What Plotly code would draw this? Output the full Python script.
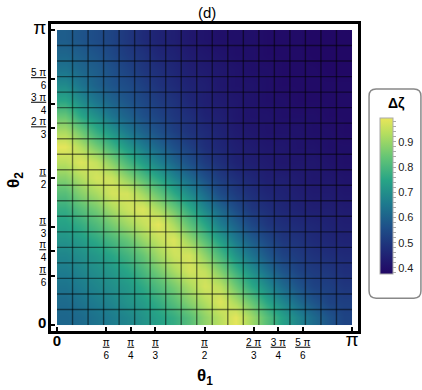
import numpy as np
import plotly.graph_objects as go

# 19 x 19 mesh cells on [0, pi] x [0, pi]
n_cells = 19
cell_edges = [k * np.pi / n_cells for k in range(n_cells + 1)]

# delta zeta at the cell centres (row = theta2 from 0 up)
dzeta = [
    [0.61, 0.62, 0.64, 0.66, 0.68, 0.71, 0.74, 0.77, 0.82, 0.89, 0.94, 0.99, 0.91, 0.82, 0.74, 0.68, 0.62, 0.57, 0.53],
    [0.62, 0.64, 0.66, 0.68, 0.71, 0.73, 0.77, 0.82, 0.88, 0.93, 0.98, 0.92, 0.84, 0.75, 0.68, 0.62, 0.57, 0.53, 0.52],
    [0.64, 0.66, 0.68, 0.70, 0.72, 0.76, 0.81, 0.86, 0.92, 0.97, 0.94, 0.85, 0.76, 0.69, 0.62, 0.57, 0.53, 0.52, 0.50],
    [0.66, 0.68, 0.70, 0.72, 0.75, 0.80, 0.86, 0.92, 0.97, 0.95, 0.87, 0.78, 0.70, 0.63, 0.57, 0.53, 0.51, 0.50, 0.48],
    [0.68, 0.70, 0.72, 0.75, 0.79, 0.84, 0.91, 0.96, 0.97, 0.89, 0.80, 0.71, 0.64, 0.58, 0.53, 0.51, 0.49, 0.48, 0.47],
    [0.71, 0.73, 0.76, 0.80, 0.84, 0.90, 0.95, 0.98, 0.90, 0.82, 0.73, 0.65, 0.59, 0.54, 0.50, 0.49, 0.47, 0.46, 0.45],
    [0.74, 0.77, 0.81, 0.86, 0.91, 0.95, 0.99, 0.92, 0.83, 0.75, 0.66, 0.60, 0.54, 0.50, 0.48, 0.47, 0.46, 0.45, 0.44],
    [0.77, 0.82, 0.86, 0.92, 0.96, 0.98, 0.92, 0.85, 0.76, 0.68, 0.61, 0.55, 0.50, 0.48, 0.46, 0.45, 0.44, 0.44, 0.43],
    [0.82, 0.88, 0.92, 0.97, 0.97, 0.91, 0.84, 0.76, 0.69, 0.62, 0.55, 0.51, 0.48, 0.46, 0.45, 0.44, 0.43, 0.43, 0.42],
    [0.88, 0.93, 0.97, 0.96, 0.89, 0.82, 0.75, 0.68, 0.62, 0.56, 0.51, 0.48, 0.46, 0.44, 0.44, 0.43, 0.42, 0.42, 0.41],
    [0.94, 0.98, 0.95, 0.88, 0.80, 0.73, 0.67, 0.61, 0.56, 0.51, 0.48, 0.45, 0.44, 0.43, 0.42, 0.42, 0.42, 0.41, 0.40],
    [0.99, 0.93, 0.86, 0.79, 0.72, 0.66, 0.61, 0.56, 0.52, 0.48, 0.46, 0.44, 0.43, 0.42, 0.42, 0.41, 0.41, 0.40, 0.40],
    [0.92, 0.85, 0.77, 0.71, 0.65, 0.60, 0.56, 0.52, 0.49, 0.47, 0.45, 0.43, 0.42, 0.41, 0.41, 0.41, 0.40, 0.40, 0.39],
    [0.84, 0.75, 0.70, 0.64, 0.60, 0.56, 0.53, 0.50, 0.48, 0.45, 0.44, 0.42, 0.41, 0.41, 0.40, 0.40, 0.40, 0.39, 0.39],
    [0.75, 0.69, 0.64, 0.60, 0.57, 0.54, 0.51, 0.49, 0.46, 0.44, 0.43, 0.42, 0.41, 0.40, 0.40, 0.39, 0.39, 0.39, 0.39],
    [0.69, 0.64, 0.60, 0.57, 0.55, 0.52, 0.49, 0.47, 0.45, 0.44, 0.42, 0.41, 0.41, 0.40, 0.39, 0.39, 0.39, 0.39, 0.39],
    [0.64, 0.61, 0.59, 0.56, 0.53, 0.50, 0.48, 0.46, 0.44, 0.43, 0.42, 0.41, 0.40, 0.40, 0.39, 0.39, 0.39, 0.38, 0.38],
    [0.61, 0.59, 0.57, 0.54, 0.51, 0.49, 0.46, 0.45, 0.43, 0.42, 0.41, 0.40, 0.40, 0.39, 0.39, 0.39, 0.38, 0.38, 0.38],
    [0.59, 0.57, 0.55, 0.53, 0.50, 0.47, 0.45, 0.44, 0.42, 0.41, 0.40, 0.40, 0.40, 0.39, 0.39, 0.39, 0.38, 0.38, 0.38],
]

# angle ticks (fractions of pi)
angle_ticks = [0, 1 / 6, 1 / 4, 1 / 3, 1 / 2, 2 / 3, 3 / 4, 5 / 6, 1]
angle_text = [
    "<span style='font-size:15px'><b>0</b></span>",
    "<u>π</u><br>6", "<u>π</u><br>4", "<u>π</u><br>3", "<u>π</u><br>2",
    "<u>2 π</u><br>3", "<u>3 π</u><br>4", "<u>5 π</u><br>6",
    "<span style='font-size:19px'>π</span>",
]

cbar_ticks = [0.38, 0.40, 0.42, 0.44, 0.46, 0.48, 0.50, 0.52, 0.54, 0.56, 0.58, 0.60, 0.62, 0.64,
              0.66, 0.68, 0.70, 0.72, 0.74, 0.76, 0.78, 0.80, 0.82, 0.84, 0.86, 0.88, 0.90, 0.92,
              0.94, 0.96, 0.98]
cbar_text = ["" if round(v * 100) % 10 else "%.1f" % v for v in cbar_ticks]

colors = [[0, "#210664"], [0.15, "#1f2a78"], [0.3, "#1e5089"], [0.45, "#1d7a8e"],
          [0.6, "#27a486"], [0.75, "#65c575"], [0.9, "#b5de5f"], [1, "#e9e65a"]]

fig = go.Figure()

fig.add_trace(go.Heatmap(
    x=cell_edges, y=cell_edges, z=dzeta, zsmooth="best",
    zmin=0.376, zmax=0.995, colorscale=colors, hoverinfo="skip",
    colorbar=dict(
        x=1.0717, xanchor="left", xpad=0, ypad=0,
        y=0.44, yanchor="middle", len=0.508, thickness=13,
        outlinewidth=1, outlinecolor="#aaa",
        tickvals=cbar_ticks, ticktext=cbar_text,
        ticks="outside", ticklen=3, tickwidth=1, tickcolor="#aaa",
        tickfont=dict(size=11, color="#222"),
    ),
))

# mesh lines over the density
mx, my = [], []
for e in cell_edges[1:-1]:
    mx += [e, e, None]
    my += [0, np.pi, None]
    mx += [0, np.pi, None]
    my += [e, e, None]
fig.add_trace(go.Scatter(x=mx, y=my, mode="lines", hoverinfo="skip", showlegend=False,
                         line=dict(color="rgba(0,0,0,0.5)", width=1.4)))

pad = 0.064
axis_style = dict(
    range=[-pad, np.pi + pad], showgrid=False, zeroline=False,
    showline=True, mirror=True, linewidth=2.5, linecolor="black",
    ticks="inside", ticklen=4, tickwidth=2, tickcolor="black",
    tickvals=[t * np.pi for t in angle_ticks], ticktext=angle_text,
    tickfont=dict(size=10, color="black"), automargin=False,
)
fig.update_xaxes(**axis_style)
fig.update_yaxes(**axis_style)

# rounded frame around the colour bar
x0, x1, y0, y1, r = 1.036, 1.205, 0.107, 0.788, 0.023
box = (f"M {x0 + r},{y0} L {x1 - r},{y0} Q {x1},{y0} {x1},{y0 + r} "
       f"L {x1},{y1 - r} Q {x1},{y1} {x1 - r},{y1} L {x0 + r},{y1} "
       f"Q {x0},{y1} {x0},{y1 - r} L {x0},{y0 + r} Q {x0},{y0} {x0 + r},{y0} Z")
fig.add_shape(type="path", path=box, xref="paper", yref="paper",
              line=dict(color="#888", width=1.5))

label = dict(xref="paper", yref="paper", showarrow=False, xanchor="center", yanchor="middle")
fig.add_annotation(text="<b>Δζ</b>", x=1.124, y=0.743, font=dict(size=14, color="black"), **label)
fig.add_annotation(text="(d)", x=0.508, y=1.039, font=dict(size=15, color="black"), **label)
fig.add_annotation(text="<b>θ<sub>1</sub></b>", x=0.5016, y=-0.15,
                   font=dict(size=17, color="black"), **label)
fig.add_annotation(text="<b>θ<sub>2</sub></b>", x=-0.117, y=0.492, textangle=-90,
                   font=dict(size=17, color="black"), **label)

fig.update_layout(
    width=422, height=390,
    margin=dict(l=51, r=64, t=24, b=59, autoexpand=False),
    paper_bgcolor="white", plot_bgcolor="white",
    font=dict(family="Liberation Sans, Arial, sans-serif", color="black"),
    showlegend=False,
)

# drop the default 8px page margin so the figure sits at the window's corner
fig.write_html("out.html", config={"displayModeBar": False},
               post_script="document.body.style.margin = '0px';")
